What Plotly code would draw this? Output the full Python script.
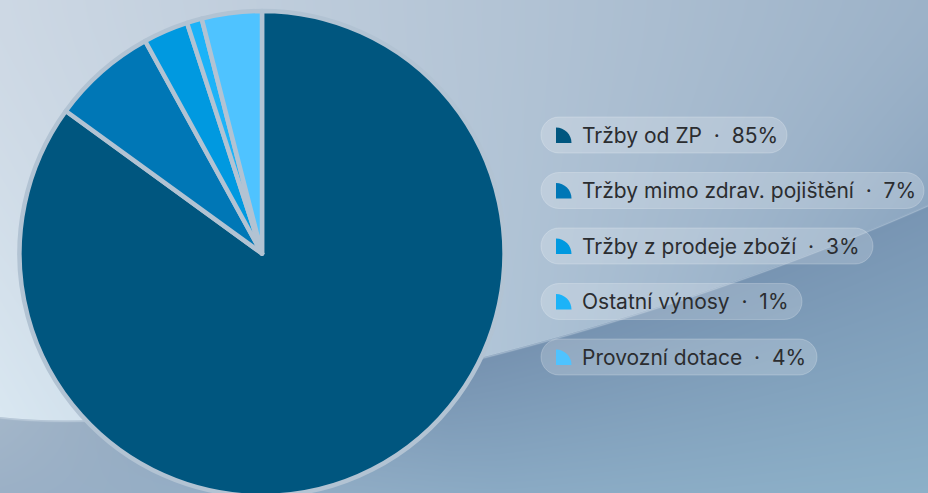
import numpy as np
import zlib, struct, base64
import plotly.graph_objects as go

# ---------------- data ----------------
labels = ["Tržby od ZP", "Tržby mimo zdrav. pojištění", "Tržby z prodeje zboží",
          "Ostatní výnosy", "Provozní dotace"]
values = [85, 7, 3, 1, 4]
colors = ["#00567f", "#0077b6", "#0099e0", "#1cb3f8", "#4fc3ff"]

W, H = 928, 507   # figure slightly taller than the 493px window; bottom is clipped like the reference

# ---------------- background image ----------------
def bez(p0, p1, p2, p3, n=600):
    t = np.linspace(0, 1, n)[:, None]
    return ((1 - t) ** 3) * p0 + 3 * ((1 - t) ** 2) * t * p1 + 3 * (1 - t) * t ** 2 * p2 + t ** 3 * p3

pts = bez(np.array([0, 417.0]), np.array([200, 440.0]), np.array([610, 346.0]), np.array([928, 205.0]))
xs = np.arange(W) + 0.5
cy = np.interp(xs, pts[:, 0], pts[:, 1])[None, :]
yy = (np.arange(H) + 0.5)[:, None]
t = (xs / W)[None, :]

def c(*v):
    return np.array(v, dtype=float)

TL, TR = c(205, 216, 228), c(156, 178, 200)
BLc, BRc = c(217, 231, 241), c(140, 166, 192)
s = np.clip(yy / cy, 0, 1) ** 1.4
up = np.zeros((H, W, 3))
for k in range(3):
    top = (1 - t) * TL[k] + t * TR[k]
    bot = (1 - t) * BLc[k] + t * BRc[k]
    up[..., k] = (1 - s) * top + s * bot

lt_x = [0, 450, 928]
lt_c = [c(163, 182, 201), c(118, 146, 176), c(120, 149, 179)]
lb_x = [0, 500, 928]
lb_c = [c(155, 176, 198), c(138, 170, 196), c(140, 176, 200)]
v = np.clip((yy - cy) / np.maximum(493 - cy, 1), 0, 1)
lo = np.zeros((H, W, 3))
for k in range(3):
    top = np.interp(xs, lt_x, [q[k] for q in lt_c])[None, :]
    bot = np.interp(xs, lb_x, [q[k] for q in lb_c])[None, :]
    lo[..., k] = (1 - v) * top + v * bot

a = np.clip(cy - yy + 0.5, 0, 1)[..., None]
img = a * up + (1 - a) * lo
hl = (np.exp(-((yy - cy - 0.8) / 0.9) ** 2) * 0.35)[..., None]
img = img * (1 - hl) + c(228, 238, 246) * hl
img = np.clip(np.round(img), 0, 255).astype(np.uint8)

raw = b"".join(b"\x00" + img[r].tobytes() for r in range(H))

def chunk(tag, data):
    return struct.pack(">I", len(data)) + tag + data + struct.pack(">I", zlib.crc32(tag + data) & 0xFFFFFFFF)

png = (b"\x89PNG\r\n\x1a\n" + chunk(b"IHDR", struct.pack(">IIBBBBB", W, H, 8, 2, 0, 0, 0))
       + chunk(b"IDAT", zlib.compress(raw, 9)) + chunk(b"IEND", b""))
bg_src = "data:image/png;base64," + base64.b64encode(png).decode()

# ---------------- figure ----------------
fig = go.Figure()
fig.add_trace(go.Pie(
    labels=labels, values=values, sort=False, direction="clockwise", rotation=0,
    marker=dict(colors=colors, line=dict(color="#b2c3d3", width=4.5)),
    textinfo="none", hoverinfo="label+percent", showlegend=False,
    domain=dict(x=[19.5 / W, 504.5 / W], y=[0, 1]),
))

def px(x):
    return x / W

def py(y):
    return 1 - y / H

def P(x, y):
    return f"{px(x):.5f},{py(y):.5f}"

K = 0.5523
shapes = []
annotations = []
pill_x0 = 541
pill_h = 36
pill_top0 = 117
pill_step = 55.5
pill_right = [787, 924, 873, 802, 817]
total = sum(values)
SEP = "\u00a0\u00a0·\u00a0\u00a0"
for i, (lab, val, col) in enumerate(zip(labels, values, colors)):
    y0 = pill_top0 + i * pill_step
    y1 = y0 + pill_h
    ycen = (y0 + y1) / 2
    r = pill_h / 2
    x0, x1 = pill_x0, pill_right[i]
    path = (f"M{P(x0 + r, y0)} L{P(x1 - r, y0)} "
            f"C{P(x1 - r + K * r, y0)} {P(x1, ycen - K * r)} {P(x1, ycen)} "
            f"C{P(x1, ycen + K * r)} {P(x1 - r + K * r, y1)} {P(x1 - r, y1)} "
            f"L{P(x0 + r, y1)} "
            f"C{P(x0 + r - K * r, y1)} {P(x0, ycen + K * r)} {P(x0, ycen)} "
            f"C{P(x0, ycen - K * r)} {P(x0 + r - K * r, y0)} {P(x0 + r, y0)} Z")
    shapes.append(dict(type="path", xref="paper", yref="paper", path=path,
                       fillcolor="rgba(255,255,255,0.2)",
                       line=dict(color="rgba(255,255,255,0.22)", width=1), layer="above"))
    # icon: quarter pie
    bx, by, ir = x0 + 15, ycen + 8, 15.5
    ipath = (f"M{P(bx, by)} L{P(bx, by - ir)} "
             f"C{P(bx + K * ir, by - ir)} {P(bx + ir, by - K * ir)} {P(bx + ir, by)} Z")
    shapes.append(dict(type="path", xref="paper", yref="paper", path=ipath,
                       fillcolor=col, line=dict(width=0), layer="above"))
    pct = round(val / total * 100)
    annotations.append(dict(
        x=px(x0 + 40), y=py(ycen), xref="paper", yref="paper",
        xanchor="left", yanchor="middle", showarrow=False, borderpad=0,
        text=f"{lab}{SEP}{pct}%",
        font=dict(family="Inter, 'Noto Sans', sans-serif", size=21, color="#2b2d30"),
    ))

fig.update_layout(
    width=W, height=H,
    margin=dict(l=0, r=0, t=0, b=0),
    paper_bgcolor="#aabdd0", plot_bgcolor="rgba(0,0,0,0)",
    images=[dict(source=bg_src, xref="paper", yref="paper", x=0, y=1, sizex=1, sizey=1,
                 xanchor="left", yanchor="top", sizing="stretch", layer="below")],
    shapes=shapes, annotations=annotations,
    showlegend=False,
)

fig.write_html("out.html", config={"displayModeBar": False},
               post_script="document.body.style.margin='0';document.body.style.overflow='hidden';")
